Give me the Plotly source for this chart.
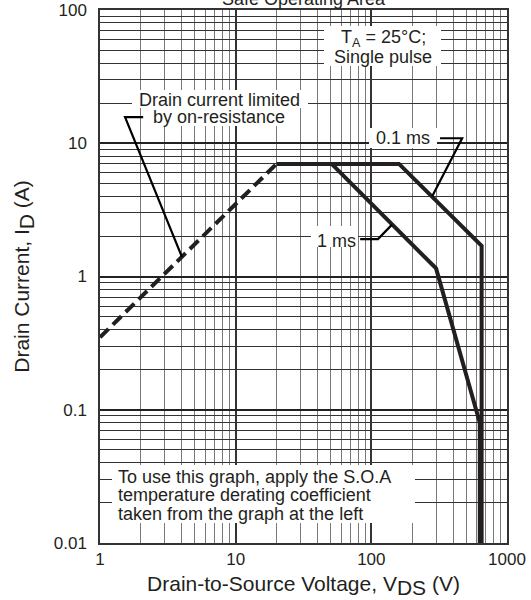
import plotly.graph_objects as go

# ---- data ----
v_rds = [1, 20]            # on-resistance limit (dashed)
i_rds = [0.35, 7]

v_01ms = [20, 160, 650, 650]   # 0.1 ms pulse boundary
i_01ms = [7, 7, 1.7, 0.01]

v_1ms = [51, 300, 630, 630]    # 1 ms pulse boundary
i_1ms = [7, 1.15, 0.08, 0.01]

# leader lines for labels
lead_rds_v = [2.08, 1.53, 4.02]
lead_rds_i = [15.7, 15.7, 1.40]
lead_01_v = [321, 467, 281]
lead_01_i = [10.9, 10.9, 4.0]
lead_1_v = [82.7, 112, 142]
lead_1_i = [1.91, 1.91, 2.45]

x_tickvals = [1, 10, 100, 1000]
x_ticktext = ["1", "10", "100", "1000"]
y_tickvals = [0.01, 0.1, 1, 10, 100]
y_ticktext = ["0.01", "0.1", "1", "10", "100"]

FONT = "Liberation Sans, Arial, Helvetica, sans-serif"
INK = "#231f20"

W, H = 531, 600
ML, MR, MT, MB = 100, 24, 10, 57
PW, PH = W - ML - MR, H - MT - MB


def px(x):
    return (x - ML) / PW


def py(y):
    return (H - MB - y) / PH


fig = go.Figure()
fig.add_trace(go.Scatter(x=v_rds, y=i_rds, mode="lines",
                         line=dict(color=INK, width=4, dash="12px,6px")))
fig.add_trace(go.Scatter(x=v_01ms, y=i_01ms, mode="lines",
                         line=dict(color=INK, width=4)))
fig.add_trace(go.Scatter(x=v_1ms, y=i_1ms, mode="lines",
                         line=dict(color=INK, width=4)))
for lv, li in [(lead_rds_v, lead_rds_i), (lead_01_v, lead_01_i), (lead_1_v, lead_1_i)]:
    fig.add_trace(go.Scatter(x=lv, y=li, mode="lines",
                             line=dict(color="#000", width=2.2)))

# white label backgrounds (pixel boxes -> paper)
boxes = [(324, 441, 26, 66), (132, 308, 90, 108), (147, 292, 108, 126),
         (369, 437, 128, 148), (311, 358, 226, 247), (112, 415, 465, 523)]
shapes = [dict(type="rect", xref="paper", yref="paper", x0=px(a), x1=px(b),
               y0=py(d), y1=py(c), fillcolor="white", line=dict(width=0), layer="above")
          for a, b, c, d in boxes]

ann_font = dict(family=FONT, size=18, color=INK)
ann = [
    (2.087, 1.786, "T<sub>A</sub> = 25°C;", "center"),
    (2.087, 1.648, "Single pulse", "center"),
    (0.878, 1.323, "Drain current limited", "center"),
    (0.878, 1.198, "by on-resistance", "center"),
    (2.236, 1.038, "0.1 ms", "center"),
    (1.740, 0.27, "1 ms", "center"),
    (0.128, -1.501, "To use this graph, apply the S.O.A", "left"),
    (0.128, -1.640, "temperature derating coefficient", "left"),
    (0.128, -1.779, "taken from the graph at the left", "left"),
]
annotations = [dict(x=x, y=y, xref="x", yref="y", text=t, showarrow=False,
                    font=ann_font, xanchor=xa, yanchor="middle", borderpad=0)
               for x, y, t, xa in ann]
annotations.append(dict(x=0.5, y=1.0207, xref="paper", yref="paper",
                        text="Safe Operating Area", showarrow=False,
                        font=dict(family=FONT, size=18, color=INK),
                        xanchor="center", yanchor="middle"))

fig.update_layout(
    width=W, height=H,
    margin=dict(l=ML, r=MR, t=MT, b=MB),
    paper_bgcolor="white", plot_bgcolor="white",
    showlegend=False,
    font=dict(family=FONT, color=INK, size=17),
    annotations=annotations,
    shapes=shapes,
    xaxis=dict(type="log", range=[0, 3], tickmode="array", tickvals=x_tickvals,
               ticktext=x_ticktext, showgrid=True, gridcolor="#333", gridwidth=1.5,
               minor=dict(dtick="D1", showgrid=True, gridcolor="#7a7a7a", gridwidth=1),
               showline=True, linecolor="#333", linewidth=1.5, mirror=True,
               ticks="outside", ticklen=0, tickcolor="rgba(0,0,0,0)",
               tickfont=dict(size=17, color=INK), automargin=False,
               title=dict(text="Drain-to-Source Voltage, V<sub><span style=\"font-size:21px\">DS</span></sub> (V)",
                          font=dict(size=21, color=INK), standoff=8),
               zeroline=False),
    yaxis=dict(type="log", range=[-2, 2], tickmode="array", tickvals=y_tickvals,
               ticktext=y_ticktext, showgrid=True, gridcolor="#222", gridwidth=2,
               minor=dict(dtick="D1", showgrid=True, gridcolor="#333", gridwidth=1),
               showline=True, linecolor="#333", linewidth=1.5, mirror=True,
               ticks="outside", ticklen=8, tickcolor="rgba(0,0,0,0)",
               tickfont=dict(size=17, color=INK), automargin=False,
               title=dict(text="Drain Current, I<sub><span style=\"font-size:21px\">D</span></sub> (A)",
                          font=dict(size=21, color=INK), standoff=18),
               zeroline=False),
)

fig.write_html("out.html", config={"displayModeBar": False},
               post_script="document.body.style.margin='0';document.body.style.overflow='hidden';")
